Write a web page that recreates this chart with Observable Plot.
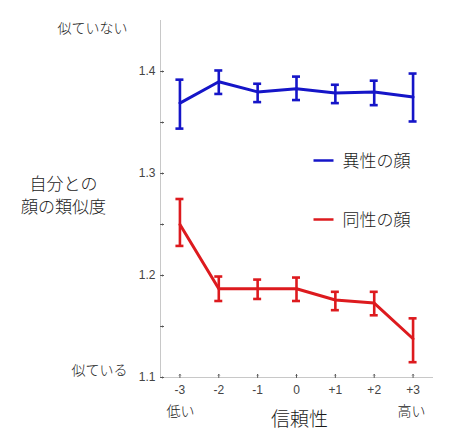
<!DOCTYPE html>
<html>
<head>
<meta charset="utf-8">
<script src="https://cdn.jsdelivr.net/npm/d3@7"></script>
<script src="https://cdn.jsdelivr.net/npm/@observablehq/plot@0.6"></script>
<style>
  html, body { margin: 0; padding: 0; background: #fff; }
</style>
</head>
<body>
<div id="chart"></div>
<script>
// ---- data ----
const levels = [-3, -2, -1, 0, 1, 2, 3];
const xTickLabels = ["-3", "-2", "-1", "0", "+1", "+2", "+3"];
const seriesNames = ["異性の顔", "同性の顔"];
const seriesColors = ["#1515c8", "#dd1a1e"];
const oppMean = [1.369, 1.390, 1.380, 1.383, 1.379, 1.380, 1.375];
const oppLow  = [1.344, 1.378, 1.370, 1.372, 1.369, 1.367, 1.351];
const oppHigh = [1.392, 1.401, 1.388, 1.395, 1.387, 1.391, 1.398];
const sameMean = [1.250, 1.187, 1.187, 1.187, 1.176, 1.173, 1.138];
const sameLow  = [1.229, 1.175, 1.177, 1.175, 1.166, 1.161, 1.115];
const sameHigh = [1.275, 1.199, 1.196, 1.198, 1.184, 1.184, 1.158];
const yMajorTicks = [1.1, 1.2, 1.3, 1.4];
const yMinorTicks = [1.15, 1.25, 1.35];
const yDomain = [1.1, 1.45];
const xDomain = [-3.5, 3.5];
const yLabelText = "自分との\n顔の類似度";
const xLabelText = "信頼性";
const yTopText = "似ていない";
const yBottomText = "似ている";
const xLeftText = "低い";
const xRightText = "高い";

const rows = [];
levels.forEach((lv, i) => {
  rows.push({x: lv, mean: oppMean[i], lo: oppLow[i], hi: oppHigh[i], s: seriesNames[0]});
  rows.push({x: lv, mean: sameMean[i], lo: sameLow[i], hi: sameHigh[i], s: seriesNames[1]});
});

const jp = "'Noto Sans CJK JP', 'Noto Sans', sans-serif";
const num = "'Liberation Sans', Arial, sans-serif";
const lineSymbol = {
  draw(context, size) {
    const r = Math.sqrt(size / Math.PI);
    context.moveTo(-r, 0);
    context.lineTo(r, 0);
  }
};
const legendDy = [140, 199];
const jpText = {fontFamily: jp, fontWeight: 300, fill: "#1a1a1a", lineAnchor: "middle", text: d => d};

const legendMarks = seriesNames.flatMap((name, i) => [
  Plot.dot([name], {frameAnchor: "top-left", dx: 163, dy: legendDy[i], symbol: lineSymbol, r: 10,
    stroke: d => d, strokeWidth: 2.5, fill: "none"}),
  Plot.text([name], {...jpText, frameAnchor: "top-left", dx: 182, dy: legendDy[i] + 1, textAnchor: "start", fontSize: 17})
]);

const chart = Plot.plot({
  width: 455,
  height: 441,
  marginLeft: 160,
  marginRight: 23,
  marginTop: 20,
  marginBottom: 64,
  style: {background: "#fff", fontFamily: num},
  x: {domain: xDomain},
  y: {domain: yDomain},
  color: {domain: seriesNames, range: seriesColors},
  marks: [
    Plot.frame({anchor: "left", stroke: "#c8c8c8"}),
    Plot.frame({anchor: "bottom", stroke: "#c8c8c8"}),
    // inward ticks
    Plot.vector(yMajorTicks.concat(yMinorTicks), {y: d => d, frameAnchor: "left", length: 3, rotate: 90, anchor: "start", stroke: "#555", strokeWidth: 1}),
    Plot.vector(levels, {x: d => d, frameAnchor: "bottom", length: 3, rotate: 0, anchor: "start", stroke: "#555", strokeWidth: 1}),
    Plot.axisY({ticks: yMajorTicks,
      tickFormat: d3.format(".1f"),
      tickSize: 0, tickPadding: 5, fontSize: 12, color: "#444", label: null}),
    Plot.axisX({ticks: levels, tickFormat: d => xTickLabels[levels.indexOf(d)],
      tickSize: 0, tickPadding: 8, fontSize: 12, color: "#444", label: null}),
    // error bars
    Plot.ruleX(rows, {x: "x", y1: "lo", y2: "hi", stroke: "s", strokeWidth: 2.6}),
    Plot.ruleY(rows, {y: "lo", x1: "x", x2: "x", insetLeft: -4, insetRight: -4, stroke: "s", strokeWidth: 2.6}),
    Plot.ruleY(rows, {y: "hi", x1: "x", x2: "x", insetLeft: -4, insetRight: -4, stroke: "s", strokeWidth: 2.6}),
    // lines
    Plot.line(rows, {x: "x", y: "mean", stroke: "s", z: "s", strokeWidth: 3}),
    // legend
    ...legendMarks,
    // annotation texts
    Plot.text([yLabelText], {...jpText, frameAnchor: "top-left", dx: -97, dy: 174, fontSize: 17, lineHeight: 1.35, textAnchor: "middle"}),
    Plot.text([yTopText], {...jpText, frameAnchor: "top-left", dx: -33, dy: 8, fontSize: 14, textAnchor: "end"}),
    Plot.text([yBottomText], {...jpText, frameAnchor: "bottom-left", dx: -33, dy: -7, fontSize: 14, textAnchor: "end"}),
    Plot.text([xLeftText], {...jpText, frameAnchor: "bottom-left", dx: 20, dy: 34, fontSize: 14, textAnchor: "middle"}),
    Plot.text([xRightText], {...jpText, frameAnchor: "bottom-right", dx: -21, dy: 34, fontSize: 14, textAnchor: "middle"}),
    Plot.text([xLabelText], {...jpText, frameAnchor: "bottom", dx: 3, dy: 42, fontSize: 19, textAnchor: "middle"})
  ]
});
document.getElementById("chart").append(chart);
</script>
</body>
</html>
